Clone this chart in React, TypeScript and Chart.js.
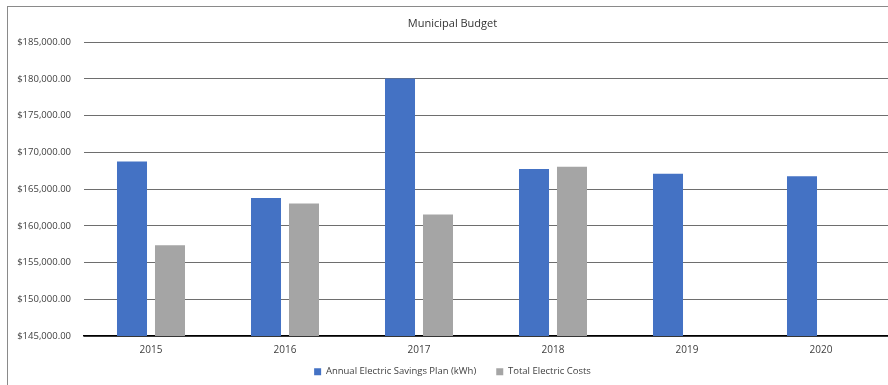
import React, { useEffect, useRef } from "react";
import { Chart, registerables } from "chart.js";

Chart.register(...registerables);

const categories = ["2015", "2016", "2017", "2018", "2019", "2020"];
const savingsPlan = [168750, 163800, 180050, 167750, 167100, 166750];
const electricCosts: (number | null)[] = [157350, 163050, 161550, 168050, null, null];
const seriesNames = ["Annual Electric Savings Plan (kWh)", "Total Electric Costs"];
const yMin = 145000;
const yMax = 185000;
const yStep = 5000;

const FONT = "'Open Sans', 'DejaVu Sans', sans-serif";
const TEXT = "#404040";

const legendShift = {
  id: "legendShift",
  afterLayout(chart: any) {
    const lg = chart.legend;
    if (lg) {
      lg.top -= 10;
      lg.bottom -= 10;
    }
  },
};

export default function App() {
  const ref = useRef<HTMLCanvasElement | null>(null);

  useEffect(() => {
    if (!ref.current) return;
    const chart = new Chart(ref.current, {
      type: "bar",
      data: {
        labels: categories,
        datasets: [
          {
            label: seriesNames[0],
            data: savingsPlan,
            backgroundColor: "#4472C4",
            barPercentage: 0.79,
            categoryPercentage: 0.567,
          },
          {
            label: seriesNames[1],
            data: electricCosts,
            backgroundColor: "#A5A5A5",
            barPercentage: 0.79,
            categoryPercentage: 0.567,
          },
        ],
      },
      options: {
        responsive: false,
        animation: false,
        layout: { padding: { top: 0, right: 10, bottom: -11.5, left: 10 } },
        plugins: {
          title: {
            display: true,
            text: "Municipal Budget",
            color: "#333333",
            font: { family: FONT, size: 11, weight: "normal" },
            padding: { top: 17, bottom: 12 },
          },
          legend: {
            position: "bottom",
            labels: {
              boxWidth: 7,
              boxHeight: 7,
              color: TEXT,
              font: { family: FONT, size: 9.5 },
              padding: 20,
            },
          },
          tooltip: { enabled: false },
        },
        scales: {
          x: {
            grid: { display: false, drawTicks: false },
            border: { display: true, color: "#000000", width: 1.5 },
            ticks: { color: TEXT, font: { family: FONT, size: 10 }, padding: 8 },
            afterFit: (s: any) => {
              s.height = 21;
            },
          },
          y: {
            min: yMin,
            max: yMax,
            grid: { color: "#6e6e6e", lineWidth: 1, drawTicks: false },
            border: { display: false },
            ticks: {
              stepSize: yStep,
              color: TEXT,
              font: { family: FONT, size: 9.5 },
              padding: 13,
              callback: (v: any) =>
                "$" + Number(v).toLocaleString("en-US", { minimumFractionDigits: 2, maximumFractionDigits: 2 }),
            },
            afterFit: (s: any) => {
              s.width = 67;
            },
          },
        },
      },
      plugins: [legendShift],
    });
    return () => chart.destroy();
  }, []);

  return (
    <div
      style={{
        position: "fixed",
        left: 0,
        top: 0,
        width: 888,
        height: 385,
        overflow: "hidden",
        background: "#ffffff",
      }}
    >
      <canvas
        ref={ref}
        width={891}
        height={385}
        style={{ position: "absolute", left: 7, top: 0, width: 891, height: 385 }}
      />
      <div
        style={{
          position: "absolute",
          left: 7,
          top: 6,
          width: 900,
          height: 400,
          borderLeft: "1.5px solid #8a8a8a",
          borderTop: "1.5px solid #8a8a8a",
          pointerEvents: "none",
        }}
      />
    </div>
  );
}
